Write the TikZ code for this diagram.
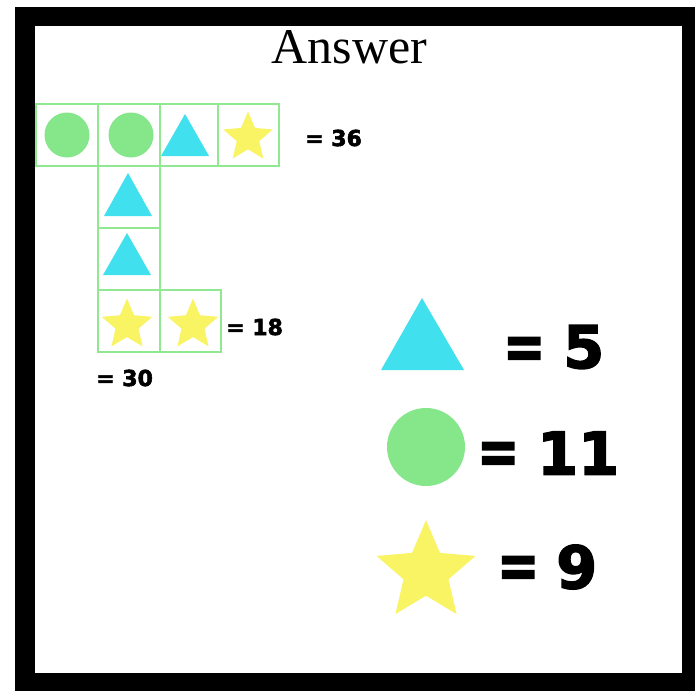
\documentclass[tikz,border=0pt]{standalone}
\usepackage{fontspec}
\setmainfont{Liberation Serif}
\newfontfamily\numfont{DejaVu Sans}[BoldFeatures={FakeBold=2.5}]
\usetikzlibrary{shapes.geometric}
\definecolor{cgreen}{RGB}{134,230,138}
\definecolor{ccyan}{RGB}{64,224,238}
\definecolor{cyellow}{RGB}{248,244,100}
\definecolor{cborder}{RGB}{144,232,144}
\tikzset{
  cellbox/.style={draw=cborder, line width=2pt},
  dot/.style={fill=cgreen},
  tri/.style={fill=ccyan},
  starshape/.style={star, star points=5, star point ratio=2.2, fill=cyellow, draw=none, inner sep=0pt},
  smalllab/.style={anchor=west, inner sep=0pt, font=\numfont\bfseries\fontsize{22}{22}\selectfont},
  biglab/.style={anchor=west, inner sep=0pt, font=\numfont\bfseries\fontsize{59}{59}\selectfont},
}
\begin{document}
\begin{tikzpicture}[x=1pt, y=-1pt]
\useasboundingbox (0,0) rectangle (695,691);
\fill[white] (0,0) rectangle (695,691);
\fill[black] (15,7) rectangle (695,691);
\fill[white] (35,26) rectangle (682,673);
\node[anchor=base, inner sep=0pt, font=\fontsize{50}{50}\selectfont] (title) at (349.5,63) {Answer};

% grid cells
\draw[cellbox] (36,104) rectangle (98,166);
\draw[cellbox] (98,104) rectangle (160,166);
\draw[cellbox] (160,104) rectangle (218,166);
\draw[cellbox] (218,104) rectangle (279,166);
\draw[cellbox] (98,166) rectangle (160,228);
\draw[cellbox] (98,228) rectangle (160,290);
\draw[cellbox] (98,290) rectangle (160,352);
\draw[cellbox] (160,290) rectangle (221,352);

% shapes in cells
\fill[dot] (67,135) circle (22.5);
\fill[dot] (131,135) circle (22.5);
\fill[tri] (161,156) -- (209,156) -- (185,114) -- cycle;
\node[starshape, minimum size=52pt] (s1) at (248,137.5) {};
\fill[tri] (104,216) -- (152,216) -- (128,173) -- cycle;
\fill[tri] (103,275) -- (151,275) -- (127,233) -- cycle;
\node[starshape, minimum size=53pt] (s2) at (127,325) {};
\node[starshape, minimum size=53pt] (s3) at (193,325) {};

% small labels
\node[smalllab] (l36) at (305,138) {= 36};
\node[smalllab] (l18) at (226,327) {= 18};
\node[smalllab] (l30) at (96,378) {= 30};

% legend
\fill[tri] (381,370) -- (464,370) -- (422,298) -- cycle;
\node[biglab] (e5) at (503,353) {\scalebox{0.85}[1.1]{=}};
\node[biglab] (n5) at (563,347) {5};
\fill[dot] (426,447) circle (39);
\node[biglab] (e11) at (477,458) {\scalebox{0.85}[1.1]{=}};
\node[biglab] (n11) at (537,453) {11};
\node[starshape, minimum size=104pt] (s4) at (426,572) {};
\node[biglab] (e9) at (497,572) {\scalebox{0.85}[1.1]{=}};
\node[biglab] (n9) at (556,567) {9};
\end{tikzpicture}
\end{document}
